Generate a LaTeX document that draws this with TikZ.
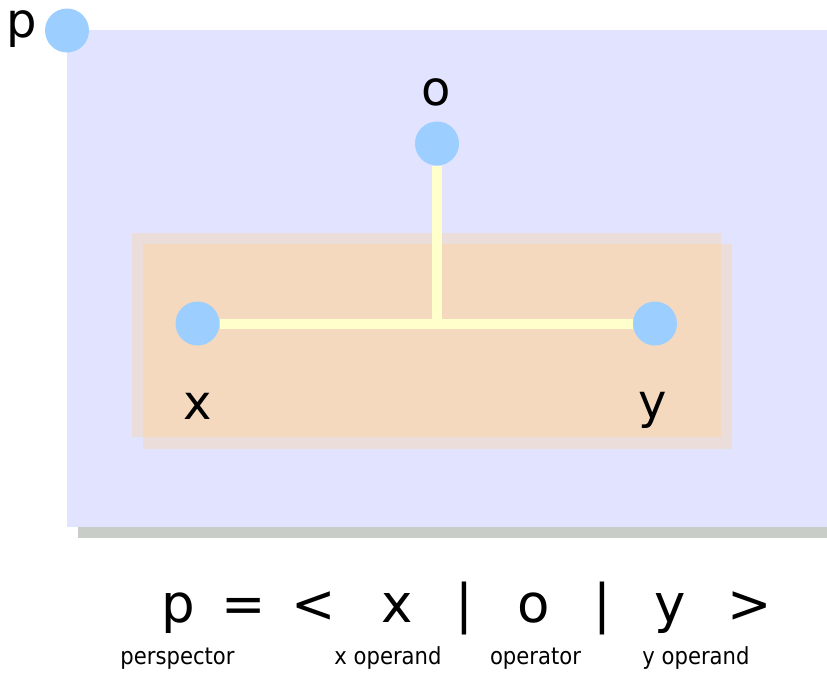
\documentclass[tikz,border=0pt]{standalone}
\usepackage{fontspec}
\setmainfont{DejaVu Sans}
\newfontfamily\condfont{DejaVu Sans Condensed}
\definecolor{lav}{HTML}{E1E3FF}
\definecolor{shadowgray}{HTML}{C8CEC7}
\definecolor{peachlight}{HTML}{EBDDD9}
\definecolor{peach}{HTML}{F4D9BF}
\definecolor{dotblue}{HTML}{9CCFFF}
\definecolor{linkyellow}{HTML}{FFFFCC}
\tikzset{
  dot/.style={circle, fill=dotblue, minimum size=44pt, inner sep=0pt},
  biglabel/.style={anchor=base, inner sep=0pt, font=\fontsize{48}{48}\selectfont},
  formula/.style={anchor=base, inner sep=0pt, font=\fontsize{53}{53}\selectfont},
  smalllabel/.style={anchor=base, inner sep=0pt, font=\condfont\fontsize{23.5}{23.5}\selectfont},
  link/.style={draw=linkyellow, line width=10pt}
}
\begin{document}
\begin{tikzpicture}[x=1pt, y=-1pt]
\useasboundingbox (0,0) rectangle (827,672);
% shadow and frame
\fill[shadowgray] (78,41) rectangle (827,538);
\fill[lav] (67,30) rectangle (827,527);
% peach boxes
\fill[peachlight] (132,233) rectangle (721,437);
\fill[peachlight] (143,244) rectangle (732,449);
\fill[peach] (143,244) rectangle (721,437);
% links
\coordinate (j) at (437,323.5);
% nodes
\node[dot] (p) at (67,30.5) {};
\node[dot] (o) at (437,143.5) {};
\node[dot] (x) at (197.5,323.5) {};
\node[dot] (y) at (655,323.5) {};
\draw[link] (x.east) -- (y.west);
\draw[link] (o.south) -- ([yshift=5pt]j);
% labels
\node[biglabel] (lp) at (22,37) {p};
\node[biglabel] (lo) at (436,105) {o};
\node[biglabel] (lx) at (198,419) {x};
\node[biglabel] (ly) at (653,418) {y};
% formula
\node[formula] (f1) at (178,622) {p};
\node[formula] (f2) at (244,622) {=};
\node[formula] (f3) at (314,622) {<};
\node[formula] (f4) at (397,622) {x};
\node[formula] (f5) at (464,622) {|};
\node[formula] (f6) at (534,622) {o};
\node[formula] (f7) at (602,622) {|};
\node[formula] (f8) at (670,622) {y};
\node[formula] (f9) at (750,622) {>};
% captions
\node[smalllabel] (c1) at (177.5,664) {perspector};
\node[smalllabel] (c2) at (388,664) {x operand};
\node[smalllabel] (c3) at (535.5,664) {operator};
\node[smalllabel] (c4) at (696,664) {y operand};
\end{tikzpicture}
\end{document}
